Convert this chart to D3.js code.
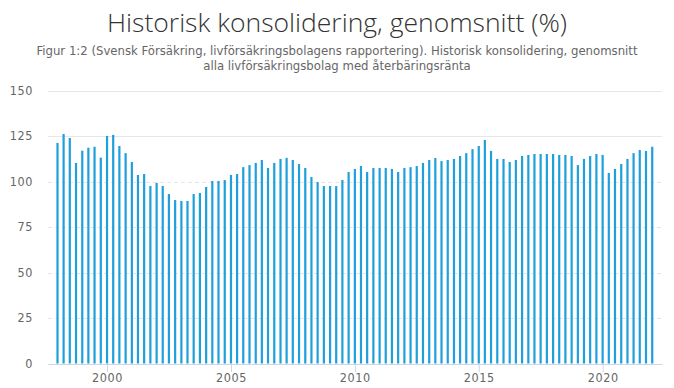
<!DOCTYPE html>
<html>
<head>
<meta charset="utf-8">
<script src="https://cdn.jsdelivr.net/npm/d3@7"></script>
<style>
  body { margin: 0; background: #fff; }
  svg { display: block; }
</style>
</head>
<body>
<svg width="674" height="388"></svg>
<script>
// quarterly values, 1998 Q1 .. 2022 Q1
var startYear = 1998;
var values = [
  121.2, 126.1, 123.9, 110.2, 116.9, 118.6, 119.1, 113.1,
  125.0, 125.6, 119.5, 115.6, 110.7, 103.6, 104.1, 97.5,
  99.2, 97.5, 93.1, 89.8, 89.3, 89.3, 93.1, 93.7,
  97.0, 100.3, 100.3, 100.8, 103.6, 104.1, 107.9, 109.0,
  110.2, 111.8, 107.4, 110.2, 112.4, 113.0, 111.8, 109.6,
  107.4, 102.5, 99.7, 97.5, 97.5, 97.5, 100.8, 105.2,
  106.9, 108.5, 105.2, 107.4, 107.4, 107.4, 106.9, 105.2,
  107.4, 107.9, 108.5, 110.2, 111.8, 112.9, 111.2, 111.8,
  112.4, 114.0, 115.6, 117.8, 119.5, 122.8, 116.8, 112.4,
  112.4, 110.7, 111.8, 114.0, 114.6, 115.1, 115.1, 115.1,
  115.1, 114.6, 114.6, 114.0, 109.0, 112.4, 114.0, 115.1,
  114.6, 104.7, 106.9, 109.6, 112.4, 115.6, 117.3, 116.8,
  119.1
];
var yTicks = [0, 25, 50, 75, 100, 125, 150];
var titleText = "Historisk konsolidering, genomsnitt (%)";
var subtitleLines = [
  "Figur 1:2 (Svensk Försäkring, livförsäkringsbolagens rapportering). Historisk konsolidering, genomsnitt",
  "alla livförsäkringsbolag med återbäringsränta"
];

var data = values.map(function(v, i) {
  return { date: new Date(startYear, i * 3, 1), value: v };
});

var svg = d3.select("svg");
var plotLeft = 48, plotRight = 662, plotTop = 90.5, plotBottom = 363.5;
var labelFont = "'Liberation Sans Narrow', 'DejaVu Sans Condensed', sans-serif";

var x = d3.scaleTime()
  .domain([new Date(1997, 7, 14), new Date(2022, 4, 25)])
  .range([plotLeft, plotRight]);
var y = d3.scaleLinear().domain([0, 150]).range([plotBottom, plotTop]);

// title + subtitle
svg.append("text")
  .attr("x", 337).attr("y", 32)
  .attr("text-anchor", "middle")
  .attr("font-family", "'Open Sans', sans-serif")
  .attr("font-weight", 300)
  .attr("font-size", "26.5px")
  .attr("fill", "#333")
  .text(titleText);

svg.selectAll("text.sub")
  .data(subtitleLines)
  .enter()
  .append("text").attr("class", "sub")
  .attr("x", 337)
  .attr("y", function(d, i) { return 55 + i * 15; })
  .attr("text-anchor", "middle")
  .attr("font-family", labelFont)
  .attr("font-size", "13px")
  .attr("fill", "#666")
  .text(function(d) { return d; });

// grid
svg.append("g")
  .selectAll("line")
  .data(yTicks.filter(function(d) { return d > 0; }))
  .enter()
  .append("line")
  .attr("x1", plotLeft).attr("x2", plotRight)
  .attr("y1", function(d) { return Math.round(y(d)) + 0.5; })
  .attr("y2", function(d) { return Math.round(y(d)) + 0.5; })
  .attr("stroke", "#e6e6e6")
  .attr("stroke-width", 1)
  .attr("stroke-dasharray", function(d) { return d > 100 ? null : "4,3"; });

// y labels
svg.append("g")
  .selectAll("text")
  .data(yTicks)
  .enter()
  .append("text")
  .attr("x", 33)
  .attr("y", function(d) { return y(d) + 4; })
  .attr("text-anchor", "end")
  .attr("font-family", labelFont)
  .attr("font-size", "12.5px")
  .attr("letter-spacing", "0.6px")
  .attr("fill", "#666")
  .text(function(d) { return d; });

// bars
var barW = 2.2;
svg.append("g")
  .selectAll("rect")
  .data(data)
  .enter()
  .append("rect")
  .attr("x", function(d) { return x(d.date) - barW / 2; })
  .attr("y", function(d) { return y(d.value); })
  .attr("width", barW)
  .attr("height", function(d) { return plotBottom - y(d.value); })
  .attr("fill", "#1f9fdb");

// x axis
var xAxis = d3.axisBottom(x)
  .ticks(d3.timeYear.every(5))
  .tickFormat(d3.timeFormat("%Y"))
  .tickSizeInner(8)
  .tickSizeOuter(0)
  .tickPadding(1);

var gx = svg.append("g")
  .attr("transform", "translate(0," + (plotBottom + 0.5) + ")")
  .call(xAxis);
gx.select(".domain").attr("stroke", "#ccd6eb");
gx.selectAll(".tick line").attr("stroke", "#ccd6eb");
gx.selectAll(".tick text")
  .attr("fill", "#666")
  .attr("font-family", labelFont)
  .attr("font-size", "12.5px")
  .attr("letter-spacing", "0.6px");
</script>
</body>
</html>
